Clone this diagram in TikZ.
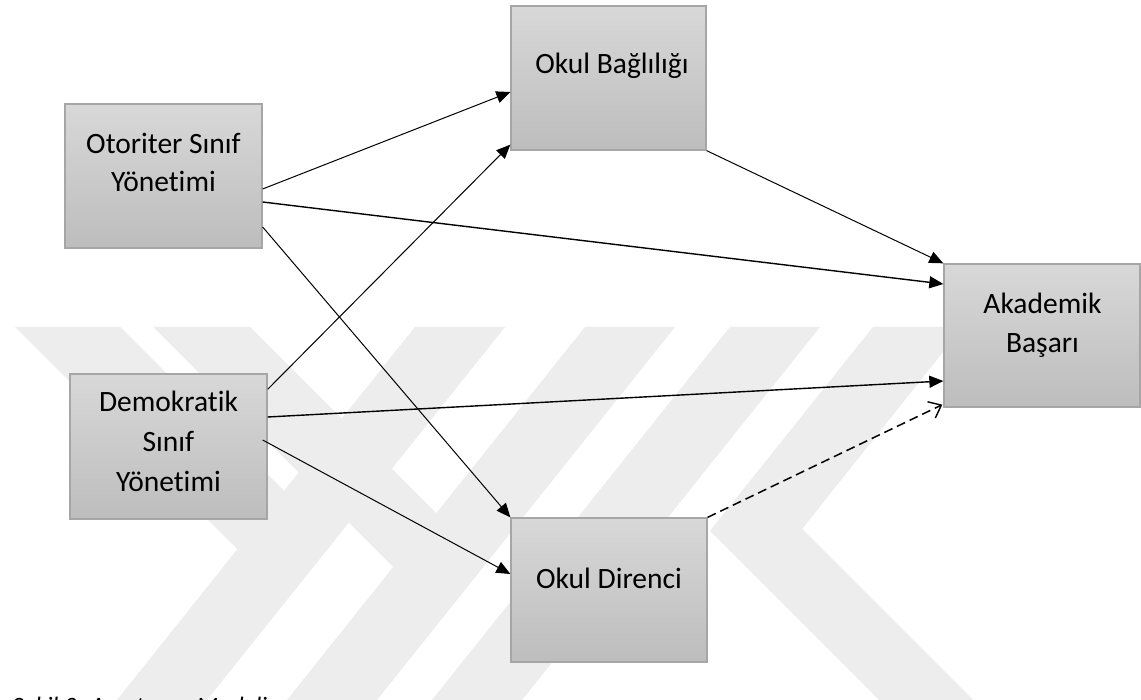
\documentclass[tikz,border=0pt]{standalone}
\usepackage{fontspec}
\setmainfont{Carlito}[Ligatures={NoCommon}]
\usetikzlibrary{arrows.meta}
\definecolor{wm}{HTML}{EDEDED}
\definecolor{boxtop}{HTML}{D8D8D8}
\definecolor{boxbot}{HTML}{BDBDBD}
\definecolor{boxline}{HTML}{A6A6A6}
\begin{document}
\begin{tikzpicture}[x=1pt,y=-1pt,
  box/.style={draw=boxline, line width=1.3pt, top color=boxtop, bottom color=boxbot, inner sep=0pt},
  lbl/.style={anchor=base, inner sep=0pt, font=\fontsize{29.5}{36}\selectfont},
  arr/.style={-{Triangle[length=14pt,width=12pt]}, line width=1pt},
  arrb/.style={-{Triangle[length=14pt,width=12pt]}, line width=1.4pt},
  darr/.style={-{Straight Barb[length=11pt,width=18pt,line width=1.4pt]}, line width=1.5pt, dash pattern=on 9pt off 5pt},
  wmark/.style={fill=wm, draw=none}
]
\useasboundingbox (0,0) rectangle (1141,700);
\fill[white] (0,0) rectangle (1141,700);
\clip (0,0) rectangle (1141,700);

% watermark
\fill[wmark] (15,327) -- (120,327) -- (334,541) -- (287,599) -- cycle;
\fill[wmark] (153,327) -- (250,327) -- (486,563) -- (443,617) -- cycle;
\fill[wmark] (415,327) -- (505,327) -- (191,720) -- (101,720) -- cycle;
\fill[wmark] (585,327) -- (675,327) -- (361,720) -- (271,720) -- cycle;
\fill[wmark] (730,327) -- (820,327) -- (506,720) -- (416,720) -- cycle;
\fill[wmark] (873,327) -- (963,327) -- (802,529) -- (993,720) -- (899,720) -- (710,531) -- cycle;

% boxes
\node[box, minimum width=197pt, minimum height=144pt] (ot) at (163.5,176) {};
\node[box, minimum width=197pt, minimum height=145pt] (dm) at (168.5,446.5) {};
\node[box, minimum width=195pt, minimum height=144pt] (ob) at (608.5,78) {};
\node[box, minimum width=196pt, minimum height=144pt] (od) at (609,590) {};
\node[box, minimum width=196pt, minimum height=143pt] (ak) at (1042,335.5) {};

% labels
\node[lbl] (ot1) at (163.5,154) {Otoriter Sınıf};
\node[lbl] (ot2) at (163.5,192) {Yönetimi};
\node[lbl] (dm1) at (168.5,412) {Demokratik};
\node[lbl] (dm2) at (168.5,452) {Sınıf};
\node[lbl] (dm3) at (168.5,491) {Yönetimi};
\node[lbl] (ob1) at (612,74) {Okul Bağlılığı};
\node[lbl] (od1) at (609,588) {Okul Direnci};
\node[lbl] (ak1) at (1042.5,314) {Akademik};
\node[lbl] (ak2) at (1042.5,353) {Başarı};

% connectors
\draw[arr] ([yshift=-13pt]ot.east) -- ([yshift=-14pt]ob.west);
\draw[arrb] ([yshift=-26pt]ot.east) -- ([yshift=51.5pt]ak.west);
\draw[arr] ([yshift=-51pt]ot.east) -- (od.north west);
\draw[arr] (ob.south east) -- (ak.north west);
\draw[arr] ([yshift=-16pt]dm.north east) -- ([yshift=6pt]ob.south west);
\draw[arrb] ([yshift=29.5pt]dm.east) -- ([yshift=-45.5pt]ak.west);
\draw[arr] ([yshift=6.5pt,xshift=-5pt]dm.east) -- ([yshift=16pt]od.west);
\draw[darr] (od.north east) -- ([xshift=-1pt,yshift=3pt]ak.south west);

% caption
\node[anchor=base west, inner sep=0pt, font=\fontsize{25}{30}\selectfont\itshape] (cap) at (12,714) {Şekil 3. Araştırma Modeli};
\end{tikzpicture}
\end{document}
